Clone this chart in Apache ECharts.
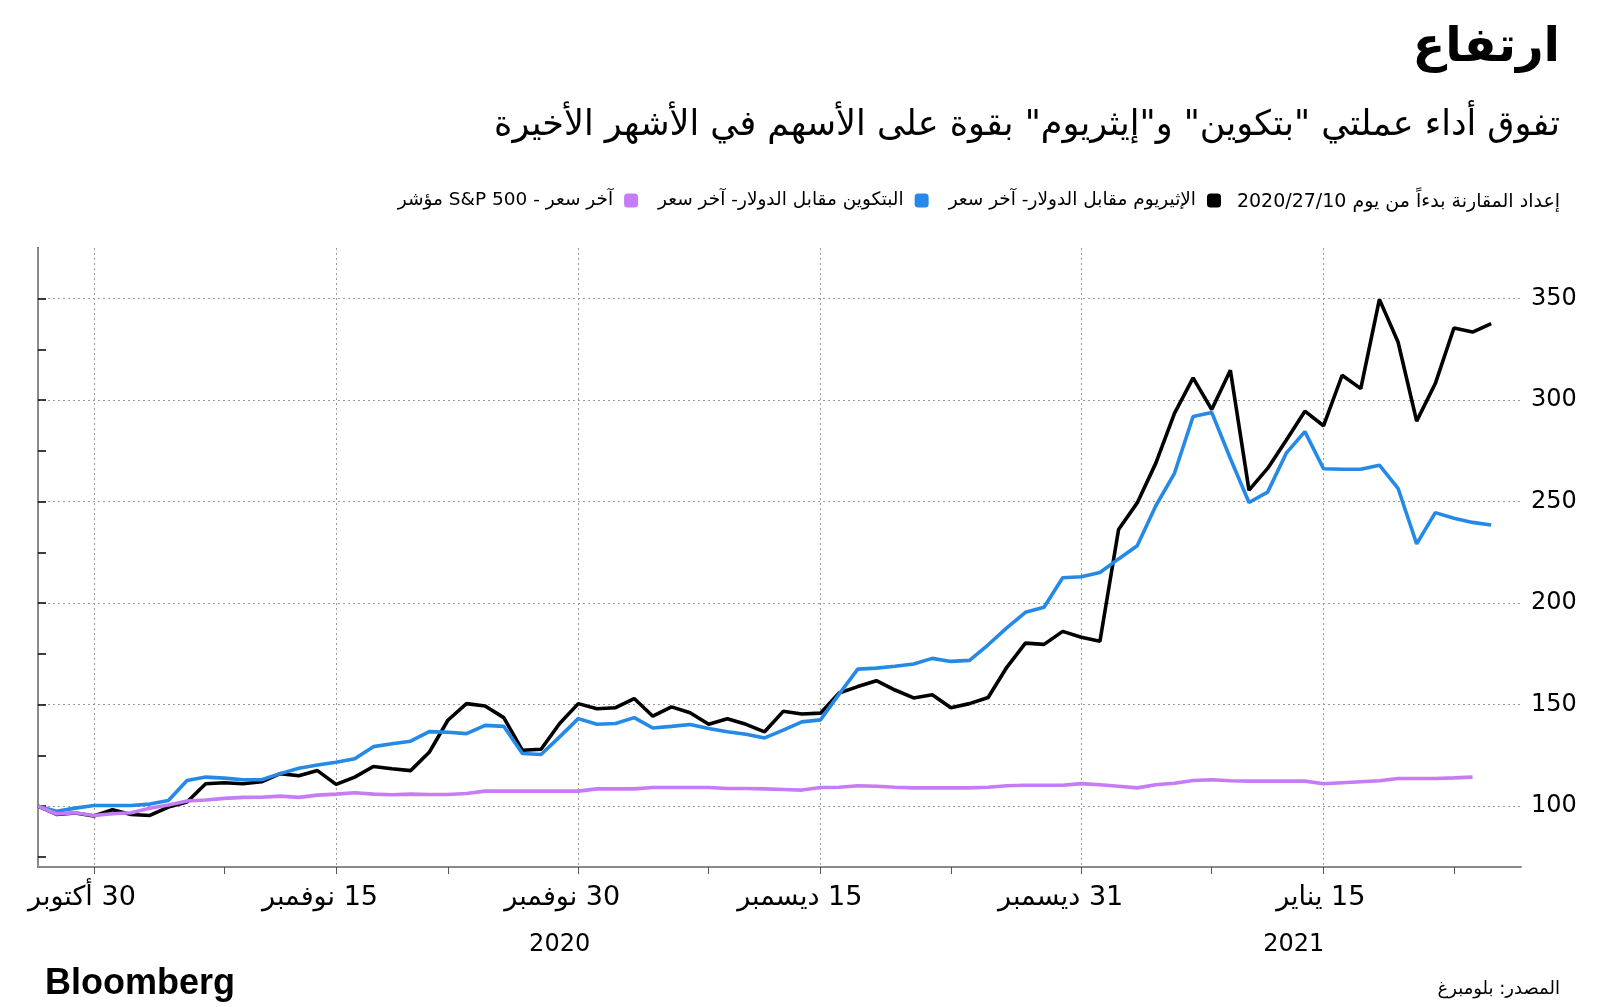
<!DOCTYPE html>
<html><head><meta charset="utf-8">
<script src="https://cdn.jsdelivr.net/npm/echarts@6/dist/echarts.min.js"></script>
<style>html,body{margin:0;padding:0;background:#fff}#c{width:1600px;height:1007px}</style>
</head><body>
<div id="c" dir="rtl"></div>
<script>
// ---- data (index = trading point since 2020/10/27) ----
const ethValues = [100,95.9,96.6,95.1,98.2,95.9,95.4,99.5,102,111,111.5,111,112,116,115,117.5,110.7,114.3,119.5,118.4,117.5,126.5,142.3,150.5,149.3,143.6,127.5,128,140.7,150.5,148,148.5,153,144.3,148.9,146,140.3,143,140.3,136.6,146.7,145.4,145.8,155.7,158.9,161.8,157.2,153.3,154.9,148.5,150.5,153.5,168.4,180.3,179.7,186.1,183.2,181.2,236.3,249.4,269,293.5,311,295.4,314.8,255.7,266.4,280.3,294.6,287.4,312.3,305.7,349.7,328.7,289.7,308.2,335.6,333.6,337.7];
const btcValues = [100,97.5,99,100.3,100.3,100.3,101,102.8,112.6,114.3,113.8,113,113,116,118.7,120.3,121.6,123.3,129.3,130.7,132,136.7,136.4,135.7,139.8,139.3,125.9,125.4,134.1,143.1,140.3,140.7,143.6,138.5,139.3,140.2,138.2,136.6,135.4,133.6,137.4,141.5,142.5,155.2,167.5,168,168.9,170,172.8,171.3,171.8,179.5,187.8,195.5,198,212.5,213,215.1,221.8,228.3,248,264,292,294,271.3,249.6,254.7,273.9,284.5,266.2,266,266,268,256.6,229.2,244.6,241.8,239.8,238.5];
const spxValues = [100,96.1,96.7,95.4,96.2,96.7,98.9,100.5,102.5,103,103.8,104.3,104.4,104.9,104.3,105.4,105.9,106.6,105.9,105.6,105.9,105.7,105.7,106.2,107.4,107.4,107.4,107.4,107.4,107.4,108.5,108.5,108.5,109.2,109.2,109.2,109.2,108.7,108.7,108.5,108.2,107.9,109.2,109.3,110,109.8,109.3,109,109,109,109,109.3,110,110.3,110.3,110.3,111.1,110.5,109.8,109,110.5,111.3,112.6,113,112.5,112.3,112.3,112.3,112.3,111,111.5,112,112.5,113.6,113.6,113.6,113.9,114.3];

const seriesNames = ['الإثيريوم مقابل الدولار- آخر سعر','البتكوين مقابل الدولار- آخر سعر','آخر سعر - 500 S&P مؤشر'];
const monthTickIdx = [3,16,29,42,56,69];
const monthLabels = ['30 أكتوبر','15 نوفمبر','30 نوفمبر','15 ديسمبر','31 ديسمبر','15 يناير'];
const minorTickIdx = [10,22,36,49,63,76];
const yearLabelIdx = [28,67.4];
const yearLabels = ['2020','2021'];
const yLabelValues = [100,150,200,250,300,350];
const yTickValues = [75,100,125,150,175,200,225,250,275,300,325,350];

const titleText = 'ارتفاع';
const subtitleText = 'تفوق أداء عملتي "بتكوين" و"إيثريوم" بقوة على الأسهم في الأشهر الأخيرة';
const noteText = 'إعداد المقارنة بدءاً من يوم 2020/27/10';
const sourceText = 'المصدر: بلومبرغ';
const brandText = 'Bloomberg';

// ---- chart ----
const FONT = '"DejaVu Sans", sans-serif';
const X_MAX = 79.6;
const LABEL_SHIFT = 2.25;
const labelPos = monthTickIdx.map(v => v + LABEL_SHIFT);
const toPairs = arr => arr.map((v, i) => [i, v]);
const pick = (positions, labels) => v => {
  const k = positions.findIndex(p => Math.abs(p - v) < 0.01);
  return k >= 0 ? labels[k] : '';
};

const chart = echarts.init(document.getElementById('c'), null, {renderer: 'canvas'});
chart.setOption({
  animation: false,
  backgroundColor: '#fff',
  title: [
    {text: titleText, right: 35, top: 20, textStyle: {fontFamily: FONT, fontSize: 48, fontWeight: 'bold', color: '#000'}},
    {text: subtitleText, right: 35, top: 103, textStyle: {fontFamily: FONT, fontSize: 35, fontWeight: 'normal', color: '#000'}},
    {text: noteText, right: 35, top: 188, textStyle: {fontFamily: FONT, fontSize: 19, fontWeight: 'normal', color: '#000'}},
    {text: brandText, left: 40, top: 961, textStyle: {fontFamily: '"Liberation Sans", Arial, sans-serif', fontSize: 36, fontWeight: 'bold', color: '#000'}},
    {text: sourceText, right: 35, top: 975, textStyle: {fontFamily: FONT, fontSize: 18, fontWeight: 'normal', color: '#000'}}
  ],
  legend: {
    data: [seriesNames[2], seriesNames[1], seriesNames[0]],
    right: 379, top: 191, padding: 0,
    align: 'right', icon: 'roundRect', itemWidth: 14, itemHeight: 14, itemGap: 20,
    textStyle: {fontFamily: FONT, fontSize: 18.5, color: '#000', padding: [0, 6, 0, 0]}
  },
  grid: {left: 38, right: 79, top: 248, bottom: 140, containLabel: false},
  xAxis: [
    {
      type: 'value', min: 0, max: X_MAX, position: 'bottom',
      axisLine: {show: true, lineStyle: {color: '#8a8a8a', width: 2}},
      axisTick: {show: true, length: 7, customValues: monthTickIdx.concat(minorTickIdx).sort((a,b)=>a-b), lineStyle: {color: '#555', width: 1}},
      axisLabel: {show: true, customValues: labelPos, formatter: pick(labelPos, monthLabels), align: 'right', margin: 17, fontFamily: FONT, fontSize: 27, color: '#000'},
      splitLine: {show: false}
    },
    {
      type: 'value', min: 0, max: X_MAX, position: 'bottom',
      axisLine: {show: false},
      axisTick: {show: false, customValues: monthTickIdx},
      axisLabel: {show: true, customValues: yearLabelIdx, formatter: pick(yearLabelIdx, yearLabels), align: 'center', margin: 66, fontFamily: FONT, fontSize: 24, color: '#000'},
      splitLine: {show: true, lineStyle: {color: '#9a9a9a', type: [2, 3], width: 1}}
    }
  ],
  yAxis: [
    {
      type: 'value', min: 70, max: 375, position: 'right',
      axisLine: {show: true, lineStyle: {color: '#000', width: 2}},
      axisTick: {show: true, length: 8, customValues: yTickValues, lineStyle: {color: '#000', width: 1.5}},
      axisLabel: {show: true, customValues: yLabelValues, margin: 10, fontFamily: FONT, fontSize: 24, color: '#000'},
      splitLine: {show: false}
    },
    {
      type: 'value', min: 70, max: 375, position: 'left',
      axisLine: {show: true, lineStyle: {color: '#8a8a8a', width: 2}},
      axisTick: {show: false, customValues: yLabelValues},
      axisLabel: {show: false},
      splitLine: {show: true, lineStyle: {color: '#9a9a9a', type: [2, 3], width: 1}}
    }
  ],
  series: [
    {name: seriesNames[0], type: 'line', data: toPairs(ethValues), symbol: 'none', color: '#000000', lineStyle: {width: 3.6, color: '#000000'}, z: 3},
    {name: seriesNames[1], type: 'line', data: toPairs(btcValues), symbol: 'none', color: '#2589e8', lineStyle: {width: 3.6, color: '#2589e8'}, z: 4},
    {name: seriesNames[2], type: 'line', data: toPairs(spxValues), symbol: 'none', color: '#c67cf5', lineStyle: {width: 3.6, color: '#c67cf5'}, z: 5}
  ]
});
</script>
</body></html>
